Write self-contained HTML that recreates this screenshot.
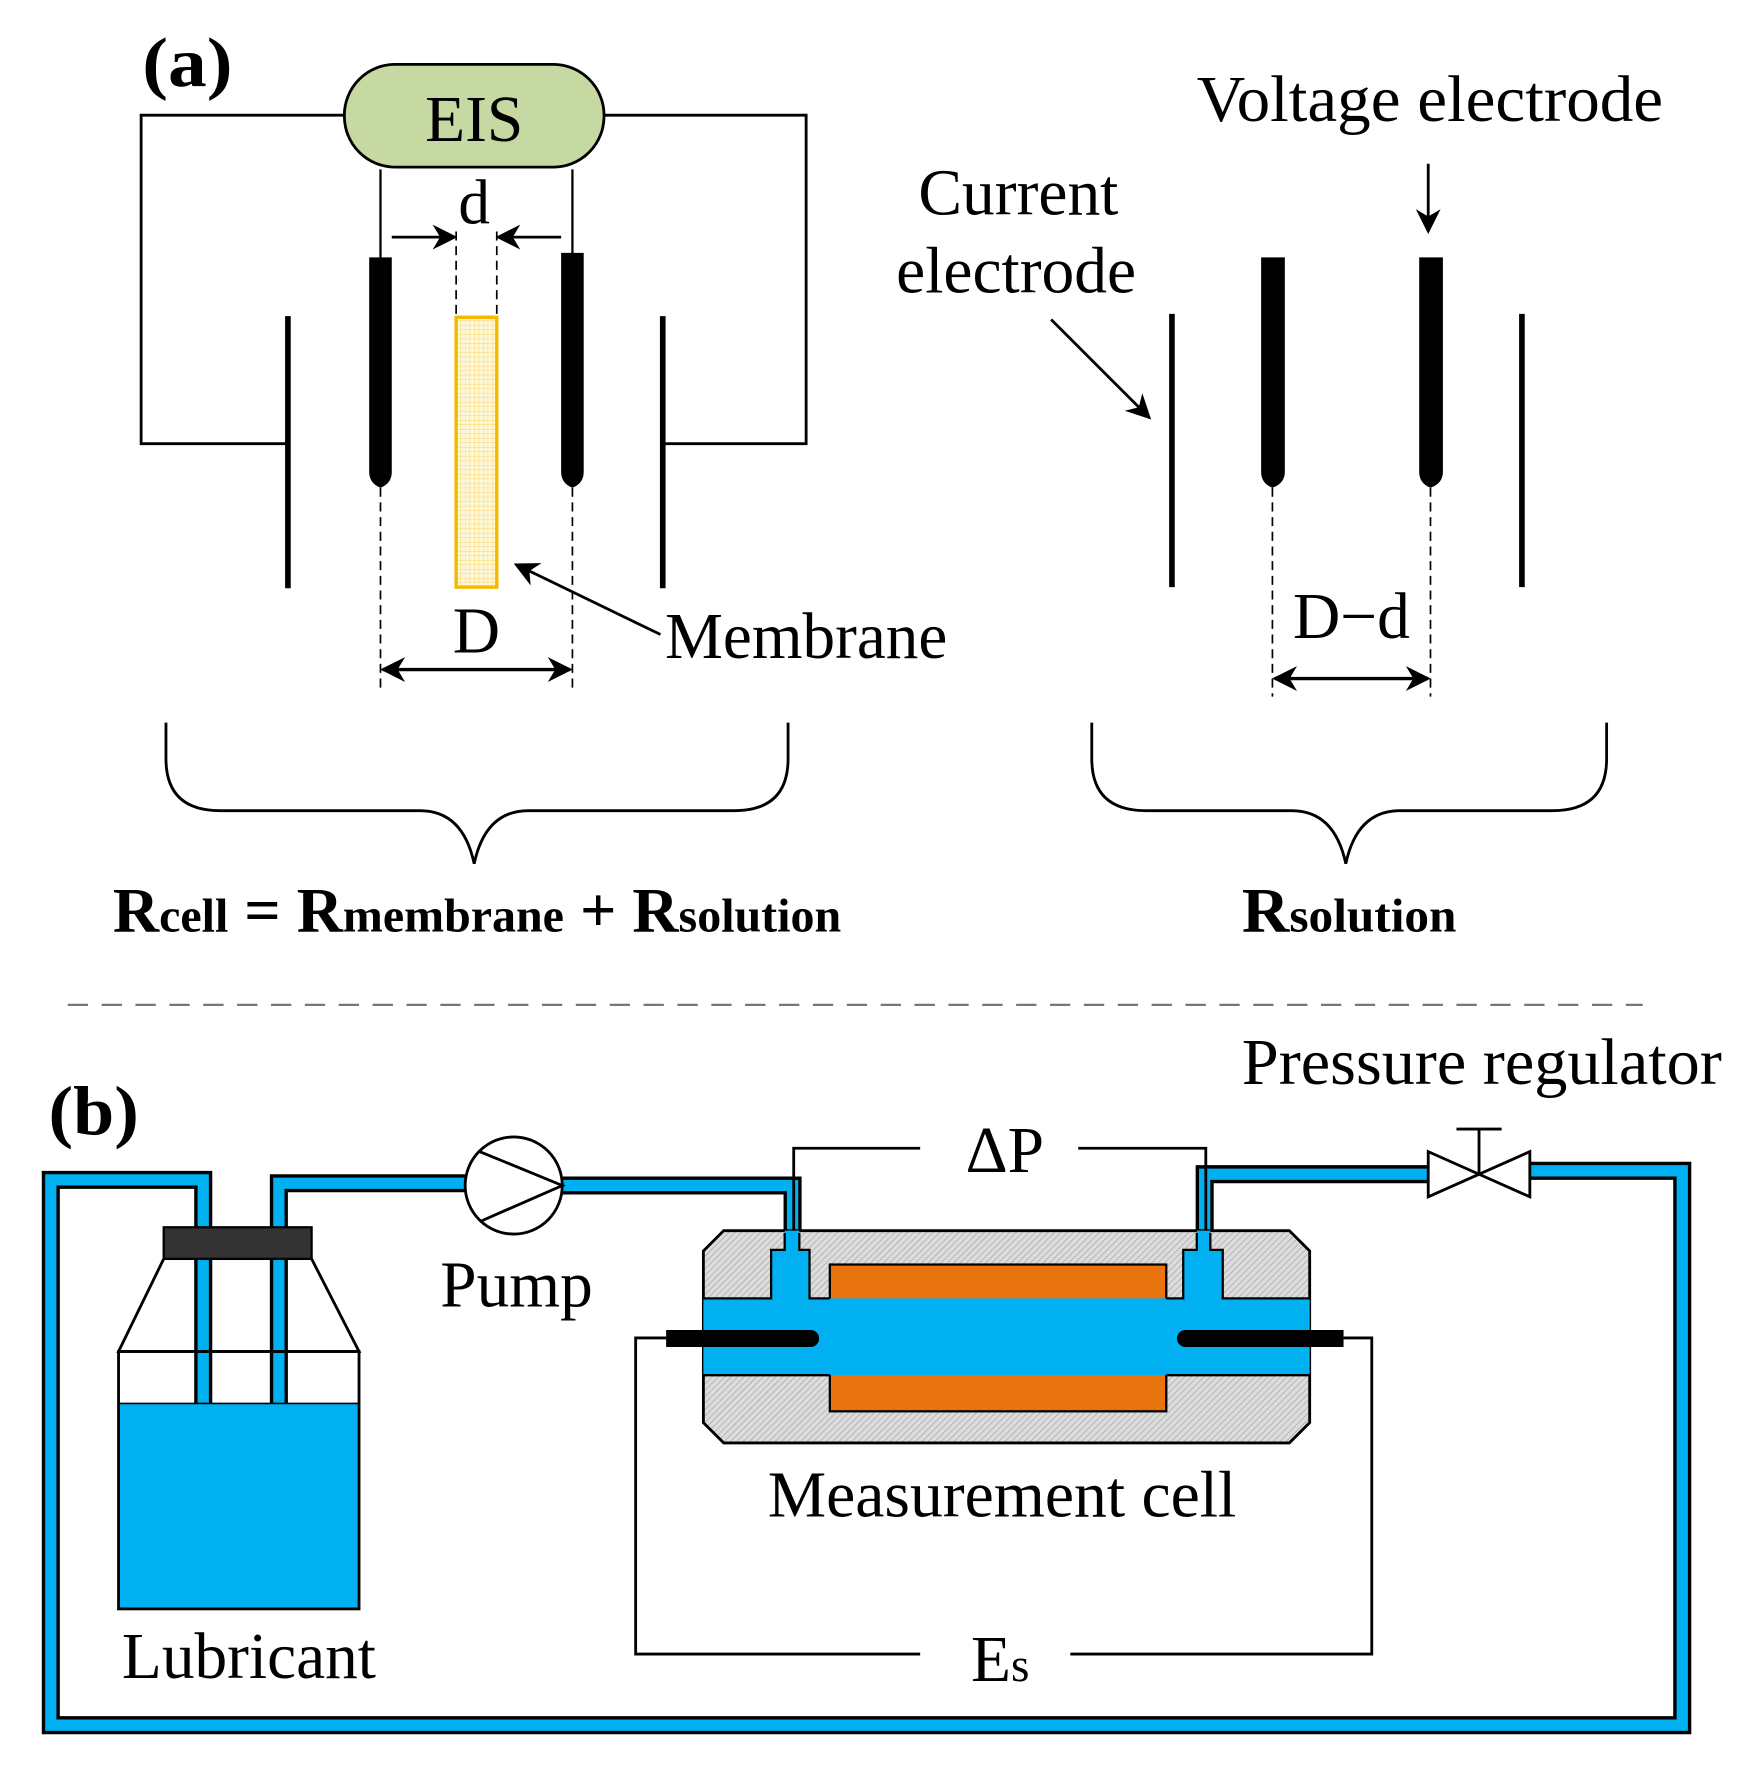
<!DOCTYPE html>
<html><head><meta charset="utf-8"><style>
html,body{margin:0;padding:0;background:#fff;}
svg{display:block;}
text{font-family:"Liberation Serif",serif;fill:#000;}
</style></head><body>
<svg width="1750" height="1776" viewBox="0 0 1550 1573" preserveAspectRatio="none" xmlns="http://www.w3.org/2000/svg">
<defs>
<marker id="ah2" viewBox="0 0 10 10" refX="9" refY="5" markerWidth="26" markerHeight="22" orient="auto-start-reverse" markerUnits="userSpaceOnUse">
<path d="M0,0 L10,5 L0,10 L3,5 Z" fill="#000"/></marker>
<pattern id="grid" width="4" height="4" patternUnits="userSpaceOnUse"><rect width="4" height="4" fill="#fff8d8"/><path d="M0,0H4M0,0V4" stroke="#f5c842" stroke-width="0.6"/></pattern>
<pattern id="hatch" width="4" height="4" patternUnits="userSpaceOnUse" patternTransform="rotate(45)"><rect width="4" height="4" fill="#dcdcdc"/><path d="M0,0V4" stroke="#9a9a9a" stroke-width="1"/></pattern>
</defs>

<!-- (a) -->
<text x="126" y="76" font-size="62" font-weight="bold" textLength="80" lengthAdjust="spacingAndGlyphs">(a)</text>
<path d="M305,102 H125 V393 H255 M535,102 H714 V393 H587" fill="none" stroke="#000" stroke-width="2.5"/>
<rect x="305" y="57" width="230" height="91" rx="45" fill="#c6d9a3" stroke="#000" stroke-width="2.5"/>
<text x="420" y="125" font-size="58" text-anchor="middle">EIS</text>
<line x1="255" y1="280" x2="255" y2="521" stroke="#000" stroke-width="5"/>
<line x1="587" y1="280" x2="587" y2="521" stroke="#000" stroke-width="5"/>
<line x1="337" y1="150" x2="337" y2="230" stroke="#000" stroke-width="2"/>
<line x1="507" y1="150" x2="507" y2="226" stroke="#000" stroke-width="2"/>
<path d="M327,228 H347 V418 Q347,428 337,432 Q327,428 327,418 Z" fill="#000"/>
<path d="M497,224 H517 V418 Q517,428 507,432 Q497,428 497,418 Z" fill="#000"/>
<g stroke="#000" stroke-width="1.5" stroke-dasharray="8,5">
<line x1="337" y1="432" x2="337" y2="612"/><line x1="507" y1="432" x2="507" y2="612"/>
<line x1="404" y1="205" x2="404" y2="280"/><line x1="440" y1="205" x2="440" y2="280"/>
<line x1="1127" y1="432" x2="1127" y2="617"/><line x1="1267" y1="432" x2="1267" y2="617"/>
</g>
<rect x="404" y="281" width="36" height="239" fill="url(#grid)" stroke="#f5b800" stroke-width="3"/>
<text x="420" y="198" font-size="56" text-anchor="middle">d</text>
<line x1="347" y1="210" x2="403" y2="210" stroke="#000" stroke-width="2.5" marker-end="url(#ah2)"/>
<line x1="497" y1="210" x2="441" y2="210" stroke="#000" stroke-width="2.5" marker-end="url(#ah2)"/>
<text x="422" y="578" font-size="58" text-anchor="middle">D</text>
<line x1="339" y1="593" x2="505" y2="593" stroke="#000" stroke-width="3" marker-start="url(#ah2)" marker-end="url(#ah2)"/>
<line x1="585" y1="562" x2="457" y2="500" stroke="#000" stroke-width="2.5" marker-end="url(#ah2)"/>
<text x="589" y="583" font-size="58" textLength="250" lengthAdjust="spacingAndGlyphs">Membrane</text>

<text x="1060" y="107" font-size="58" textLength="413" lengthAdjust="spacingAndGlyphs">Voltage electrode</text>
<line x1="1265" y1="145" x2="1265" y2="205" stroke="#000" stroke-width="2.5" marker-end="url(#ah2)"/>
<text x="902" y="190" font-size="58" text-anchor="middle">Current</text>
<text x="900" y="259" font-size="58" text-anchor="middle">electrode</text>
<line x1="931" y1="283" x2="1018" y2="370" stroke="#000" stroke-width="2.5" marker-end="url(#ah2)"/>
<line x1="1038" y1="278" x2="1038" y2="520" stroke="#000" stroke-width="5"/>
<line x1="1348" y1="278" x2="1348" y2="520" stroke="#000" stroke-width="5"/>
<path d="M1117,228 H1138 V418 Q1138,428 1127,432 Q1117,428 1117,418 Z" fill="#000"/>
<path d="M1257,228 H1278 V418 Q1278,428 1267,432 Q1257,428 1257,418 Z" fill="#000"/>
<text x="1197" y="565" font-size="58" text-anchor="middle">D−d</text>
<line x1="1129" y1="601" x2="1265" y2="601" stroke="#000" stroke-width="3" marker-start="url(#ah2)" marker-end="url(#ah2)"/>

<path d="M147,640 V672 Q147,718 195,718 H372 Q410,718 420,765 Q430,718 468,718 H650 Q698,718 698,672 V640" fill="none" stroke="#000" stroke-width="2.5"/>
<path d="M967,640 V672 Q967,718 1015,718 H1144 Q1182,718 1192,765 Q1202,718 1240,718 H1375 Q1423,718 1423,672 V640" fill="none" stroke="#000" stroke-width="2.5"/>
<text x="100" y="825" font-weight="bold" font-size="56" textLength="645" lengthAdjust="spacingAndGlyphs">R<tspan font-size="42">cell</tspan> = R<tspan font-size="42">membrane</tspan> + R<tspan font-size="42">solution</tspan></text>
<text x="1100" y="825" font-weight="bold" font-size="56" textLength="190" lengthAdjust="spacingAndGlyphs">R<tspan font-size="42">solution</tspan></text>

<line x1="60" y1="890" x2="1455" y2="890" stroke="#777" stroke-width="2" stroke-dasharray="18,12"/>

<!-- (b) -->
<text x="43" y="1005" font-size="62" font-weight="bold" textLength="80" lengthAdjust="spacingAndGlyphs">(b)</text>
<text x="1100" y="960" font-size="58" textLength="425" lengthAdjust="spacingAndGlyphs">Pressure regulator</text>
<g fill="none" stroke-linejoin="miter">
<path d="M180,1243 V1045 H45 V1528 H1490 V1037 H1355 M1265,1040 H1067 V1110" stroke="#000" stroke-width="16"/>
<path d="M247,1243 V1048 H413 M498,1050 H702 V1110" stroke="#000" stroke-width="16"/>
<path d="M180,1243 V1045 H45 V1528 H1490 V1037 H1355 M1265,1040 H1067 V1110" stroke="#00b0f0" stroke-width="10"/>
<path d="M247,1243 V1048 H413 M498,1050 H702 V1110" stroke="#00b0f0" stroke-width="10"/>
</g>
<circle cx="455" cy="1050" r="43" fill="#fff" stroke="#000" stroke-width="2.5"/>
<path d="M425,1020 L498,1050 L425,1082" fill="none" stroke="#000" stroke-width="2.5"/>
<text x="390" y="1157" font-size="58" textLength="135" lengthAdjust="spacingAndGlyphs">Pump</text>
<path d="M1265,1020 V1060 L1355,1020 V1060 Z" fill="#fff" stroke="#000" stroke-width="2.5"/>
<path d="M1310,1040 V1000 M1290,1000 H1330" stroke="#000" stroke-width="2.5"/>
<path d="M145,1115 L105,1197 H318 L276,1115" fill="none" stroke="#000" stroke-width="2.5"/>
<rect x="105" y="1243" width="213" height="182" fill="#00b0f0"/>
<rect x="105" y="1197" width="213" height="228" fill="none" stroke="#000" stroke-width="2.5"/>
<line x1="105" y1="1243" x2="318" y2="1243" stroke="#000" stroke-width="1.5"/>
<rect x="145" y="1087" width="131" height="28" fill="#333" stroke="#000" stroke-width="2"/>
<text x="108" y="1486" font-size="58" textLength="225" lengthAdjust="spacingAndGlyphs">Lubricant</text>
<path d="M641,1090 H1142 L1160,1108 V1260 L1142,1278 H641 L623,1260 V1108 Z" fill="url(#hatch)" stroke="#000" stroke-width="2.5"/>
<rect x="735" y="1120" width="298" height="130" fill="#e8730f" stroke="#000" stroke-width="2"/>
<path d="M623,1150 H683 V1107 H695 V1090 H708 V1107 H717 V1150 H1048 V1107 H1060 V1090 H1072 V1107 H1083 V1150 H1160 V1218 H623 Z" fill="#00b0f0"/>
<path d="M623,1150 H683 V1107 H695 V1092 M708,1092 V1107 H717 V1150 H735 M1033,1150 H1048 V1107 H1060 V1092 M1072,1092 V1107 H1083 V1150 H1160 M623,1218 H735 M1033,1218 H1160" fill="none" stroke="#000" stroke-width="2"/>
<path d="M590,1178 H718 A7.5,7.5 0 0 1 718,1193 H590 Z" fill="#000"/>
<path d="M1190,1178 H1050 A7.5,7.5 0 0 0 1050,1193 H1190 Z" fill="#000"/>
<path d="M703,1090 V1017 H815 M955,1017 H1068 V1090" fill="none" stroke="#000" stroke-width="2.5"/>
<text x="890" y="1038" font-size="58" text-anchor="middle">ΔP</text>
<path d="M590,1185 H563 V1465 H815 M948,1465 H1215 V1185 H1190" fill="none" stroke="#000" stroke-width="2.5"/>
<text x="860" y="1489" font-size="58">E<tspan font-size="42">s</tspan></text>
<text x="680" y="1343" font-size="58" textLength="415" lengthAdjust="spacingAndGlyphs">Measurement cell</text>
</svg>
</body></html>
